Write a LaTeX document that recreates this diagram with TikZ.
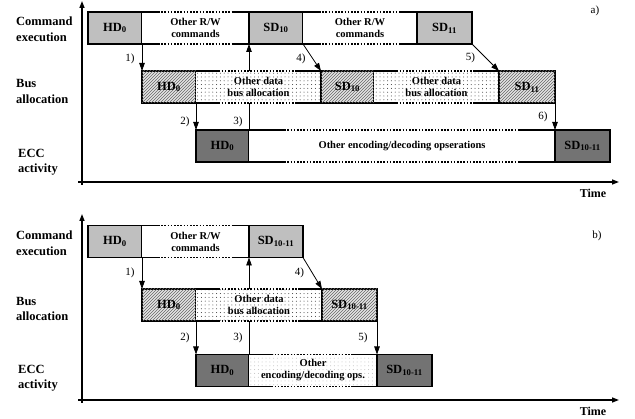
\documentclass[tikz,border=0pt]{standalone}
\usepackage{fontspec}
\setmainfont{Liberation Serif}
\usetikzlibrary{calc}
\usetikzlibrary{patterns}
\usetikzlibrary{arrows.meta}

\pgfdeclarelayer{back}
\pgfsetlayers{back,main}

% sparse dots for the "other" bus slots
\pgfdeclarepatternformonly{sparsedots}{\pgfqpoint{-1pt}{-1pt}}{\pgfqpoint{3pt}{3pt}}{\pgfqpoint{3.8pt}{3.8pt}}
{
  \pgfpathcircle{\pgfqpoint{0pt}{0pt}}{0.5pt}
  \pgfusepath{fill}
}

\tikzset{
  slot/.style={draw, line width=1.4pt, minimum height=32, inner sep=0pt, outer sep=0pt,
    anchor=north west, font=\bfseries\fontsize{12.5}{14}\selectfont},
  cmdslot/.style={slot, fill=black!25},
  busslot/.style={slot, fill=black!10, postaction={pattern=north east lines, pattern color=black!60}},
  eccslot/.style={slot, fill=black!55},
  otherslot/.style={minimum height=32, inner sep=0pt, outer sep=0pt, anchor=north west,
    align=center, fill=white, font=\bfseries\fontsize{10.5}{12}\selectfont},
  busother/.style={otherslot, postaction={pattern=sparsedots, pattern color=black!80}},
  eccother/.style={otherslot, postaction={pattern=sparsedots, pattern color=black!25}},
  rowlbl/.style={anchor=west, align=left, inner sep=0pt, font=\bfseries\fontsize{12.5}{15.5}\selectfont},
  steplbl/.style={inner sep=1pt, font=\fontsize{11}{13}\selectfont},
  timelbl/.style={inner sep=0pt, font=\bfseries\fontsize{12}{14}\selectfont},
  taglbl/.style={inner sep=0pt, font=\fontsize{11}{13}\selectfont},
  steparrow/.style={line width=0.8pt, -{Triangle[length=8pt,width=5.5pt]}},
  axis/.style={line width=1.4pt, -{Triangle[length=7pt,width=5pt]}},
  solidedge/.style={line width=1.4pt},
  dotedge/.style={line width=1.4pt, dash pattern=on 1.6pt off 1.6pt}
}

\begin{document}
\begin{tikzpicture}[x=1pt, y=-1pt]
  \useasboundingbox (0,0) rectangle (635,419);

  %%% ---------------- a) ----------------

  %% axes
  \coordinate (aYbot) at (82,185);
  \coordinate (aYtop) at (82,1);
  \coordinate (aXl) at (78,182);
  \coordinate (aXr) at (619,182);
  \draw[axis] (aYbot) -- (aYtop);
  \draw[axis] (aXl) -- (aXr);

  %% row names
  \node[rowlbl] (aRow1) at (16,29) {Command\\execution};
  \node[rowlbl] (aRow2) at (16,91.5) {Bus\\allocation};
  \node[rowlbl] (aRow3) at (18,162) {ECC\\activity};

  %% command execution
  \node[cmdslot, minimum width=54] (aC1) at (88,12) {HD\textsubscript{0}};
  \node[otherslot, minimum width=107] (aCo1) at (aC1.north east) {Other R/W\\commands};
  \node[cmdslot, minimum width=54] (aC2) at (aCo1.north east) {SD\textsubscript{10}};
  \node[otherslot, minimum width=114] (aCo2) at (aC2.north east) {Other R/W\\commands};
  \node[cmdslot, minimum width=55] (aC3) at (aCo2.north east) {SD\textsubscript{11}};

  %% bus allocation
  \node[busslot, minimum width=54] (aB1) at (142,71) {HD\textsubscript{0}};
  \node[busother, minimum width=125] (aBo1) at (aB1.north east) {Other data\\bus allocation};
  \node[busslot, minimum width=53] (aB2) at (aBo1.north east) {SD\textsubscript{10}};
  \node[busother, minimum width=125] (aBo2) at (aB2.north east) {Other data\\bus allocation};
  \node[busslot, minimum width=56] (aB3) at (aBo2.north east) {SD\textsubscript{11}};

  %% ECC activity
  \node[eccslot, minimum width=53] (aE1) at (196,130) {HD\textsubscript{0}};
  \node[otherslot, minimum width=306] (aEo) at (aE1.north east) {Other encoding/decoding opserations};
  \node[eccslot, minimum width=55] (aE2) at (aEo.north east) {SD\textsubscript{10-11}};

  \node[timelbl] (aTime) at (593,193) {Time};
  \node[taglbl] (aTag) at (595,11) {a)};

  %% steps (behind the boxes)
  \begin{pgfonlayer}{back}
    \draw[steparrow] (aC1.south east) -- (aB1.north west) node[steplbl, left=6pt, pos=.55] (aL1) {1)};
    \draw[steparrow] (aB1.south east) -- (aE1.north west) node[steplbl, left=5pt, pos=.7] (aL2) {2)};
    \draw[steparrow] (aE1.north east) -- (aC2.south west) node[steplbl, left=5pt, pos=.1] (aL3) {3)};
    \draw[steparrow] (aC2.south east) -- (aB2.north west) node[steplbl, left=6pt, pos=.55] (aL4) {4)};
    \draw[steparrow] (aC3.south east) -- (aB3.north west) node[steplbl, left=9pt, pos=.5] (aL5) {5)};
    \draw[steparrow] (aB3.south east) -- (aE2.north west) node[steplbl, left=6pt, pos=.5] (aL6) {6)};
  \end{pgfonlayer}

  %%% ---------------- b) ----------------

  %% axes
  \coordinate (bYbot) at (82,403);
  \coordinate (bYtop) at (82,214);
  \coordinate (bXl) at (78,400);
  \coordinate (bXr) at (619,400);
  \draw[axis] (bYbot) -- (bYtop);
  \draw[axis] (bXl) -- (bXr);

  %% row names
  \node[rowlbl] (bRow1) at (16,243) {Command\\execution};
  \node[rowlbl] (bRow2) at (16,309) {Bus\\allocation};
  \node[rowlbl] (bRow3) at (18,378) {ECC\\activity};

  %% command execution
  \node[cmdslot, minimum width=54] (bC1) at (88,225.5) {HD\textsubscript{0}};
  \node[otherslot, minimum width=107] (bCo1) at (bC1.north east) {Other R/W\\commands};
  \node[cmdslot, minimum width=54] (bC2) at (bCo1.north east) {SD\textsubscript{10-11}};

  %% bus allocation
  \node[busslot, minimum width=54] (bB1) at (142,289) {HD\textsubscript{0}};
  \node[busother, minimum width=126] (bBo1) at (bB1.north east) {Other data\\bus allocation};
  \node[busslot, minimum width=55] (bB2) at (bBo1.north east) {SD\textsubscript{10-11}};

  %% ECC activity
  \node[eccslot, minimum width=53] (bE1) at (196,354.5) {HD\textsubscript{0}};
  \node[eccother, minimum width=128] (bEo) at (bE1.north east) {Other\\encoding/decoding ops.};
  \node[eccslot, minimum width=55] (bE2) at (bEo.north east) {SD\textsubscript{10-11}};

  \node[timelbl] (bTime) at (593,411) {Time};
  \node[taglbl] (bTag) at (597,236) {b)};

  %% steps (behind the boxes)
  \begin{pgfonlayer}{back}
    \draw[steparrow] (bC1.south east) -- (bB1.north west) node[steplbl, left=6pt, pos=.5] (bL1) {1)};
    \draw[steparrow] (bB1.south east) -- (bE1.north west) node[steplbl, left=5pt, pos=.5] (bL2) {2)};
    \draw[steparrow] (bE1.north east) -- (bC2.south west) node[steplbl, left=5pt, pos=.17] (bL3) {3)};
    \draw[steparrow] (bC2.south east) -- (bB2.north west) node[steplbl, left=7pt, pos=.5] (bL4) {4)};
    \draw[steparrow] (bB2.south east) -- (bE2.north west) node[steplbl, left=8pt, pos=.5] (bL5) {5)};
  \end{pgfonlayer}

  %% open edges of the "other" slots: solid ends, dotted middle
  \foreach \n/\s in {aCo1/16, aCo2/18, aBo1/24, aBo2/24, aEo/36, bCo1/16, bBo1/24, bEo/24}
  {
    \draw[dotedge] (\n.north west) -- (\n.north east);
    \draw[dotedge] (\n.south west) -- (\n.south east);
    \draw[solidedge] (\n.north west) -- ++(\s,0);
    \draw[solidedge] (\n.north east) -- ++(-\s,0);
    \draw[solidedge] (\n.south west) -- ++(\s,0);
    \draw[solidedge] (\n.south east) -- ++(-\s,0);
  }
\end{tikzpicture}
\end{document}
